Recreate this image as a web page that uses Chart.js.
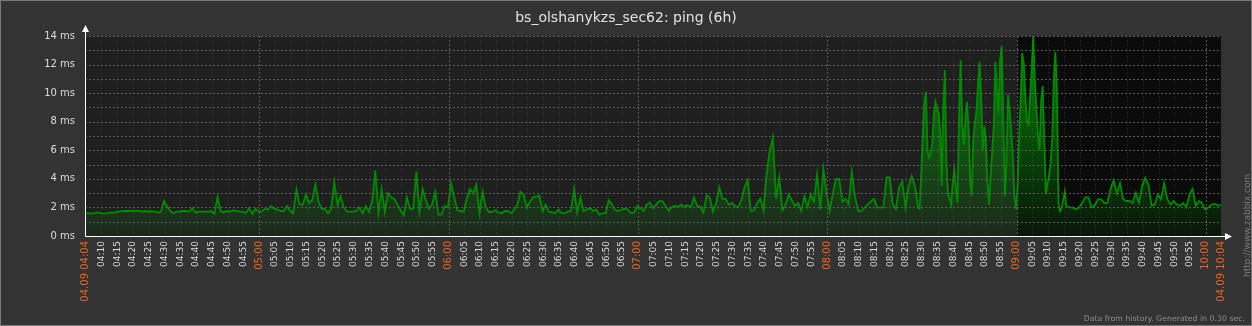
<!DOCTYPE html>
<html>
<head>
<meta charset="utf-8">
<title>bs_olshanykzs_sec62: ping (6h)</title>
<script src="https://cdn.jsdelivr.net/npm/chart.js@4.4.1/dist/chart.umd.min.js"></script>
<style>
  html, body { margin: 0; padding: 0; background: #333333; }
  #wrap { width: 1252px; height: 326px; }
  canvas { display: block; background: #333333; }
</style>
</head>
<body>
<div id="wrap"><canvas id="pingChart" width="1252" height="326"></canvas></div>
<script>
var chartTitle = 'bs_olshanykzs_sec62: ping (6h)';
var footerText = 'Data from history. Generated in 0.30 sec.';
var sideText = 'http://www.zabbix.com';

// x values are minutes since the left edge of the graph (04:04:48)
var axisStartClock = 4 * 60 + 4.8;
var axisLength = 360;

// ping, ms - one value per minute, 04:04 .. 08:28
var pingAStart = 0, pingAStep = 1;
var pingA = [
  1.6, 1.6, 1.55, 1.6, 1.65, 1.6, 1.55, 1.6, 1.65, 1.6,
  1.7, 1.7, 1.75, 1.75, 1.75, 1.75, 1.75, 1.75, 1.7, 1.75,
  1.7, 1.75, 1.7, 1.65, 1.65, 2.45, 2.1, 1.75, 1.6, 1.7,
  1.7, 1.75, 1.75, 1.7, 1.95, 1.65, 1.7, 1.7, 1.7, 1.7,
  1.75, 1.55, 2.75, 1.75, 1.65, 1.75, 1.7, 1.8, 1.75, 1.7,
  1.7, 1.6, 1.95, 1.55, 1.9, 1.7, 1.7, 1.9, 1.85, 2.1,
  1.9, 1.85, 1.75, 1.75, 2.1, 1.75, 1.6, 3.25, 2.2, 2.2,
  2.9, 2.3, 2.5, 3.6, 2.4, 1.9, 1.9, 1.6, 1.9, 3.8,
  2.2, 2.8, 2.0, 1.7, 1.7, 1.7, 1.75, 2.0, 1.6, 2.1,
  1.7, 2.4, 4.6, 1.6, 3.3, 1.7, 3.0, 2.7, 2.6, 2.2,
  1.8, 1.45, 2.7, 1.9, 1.9, 4.5, 1.7, 3.3, 2.5, 1.9,
  2.2, 3.1, 1.5, 1.5, 2.1, 2.0, 3.7, 2.7, 1.8, 1.75,
  1.7, 2.6, 3.3, 3.0, 3.6, 1.6, 3.1, 2.0, 1.68, 1.68,
  1.8, 1.65, 1.58, 1.75, 1.75, 1.6, 1.8, 2.2, 3.1, 2.9,
  2.0, 2.4, 2.7, 2.75, 2.85, 1.75, 2.2, 1.7, 1.65, 1.6,
  1.85, 1.6, 1.6, 1.7, 1.75, 3.3, 1.63, 2.7, 1.75, 1.85,
  1.95, 1.75, 1.85, 1.5, 1.6, 1.6, 2.5, 2.2, 1.8, 1.75,
  1.85, 1.9, 1.85, 1.6, 1.63, 2.1, 1.95, 1.75, 2.2, 2.35,
  1.95, 2.2, 2.44, 2.44, 2.1, 1.75, 2.05, 2.1, 2.05, 2.2,
  2.05, 2.15, 2.0, 2.7, 2.1, 2.05, 1.65, 2.85, 2.7, 1.7,
  2.3, 3.4, 2.6, 2.6, 2.2, 2.3, 2.1, 2.0, 2.5, 3.4,
  3.9, 1.74, 1.8, 2.3, 2.6, 1.81, 4.3, 6.0, 6.9, 2.6,
  4.1, 1.8, 2.2, 2.9, 2.5, 2.1, 2.3, 1.74, 2.8, 2.05,
  2.9, 2.4, 4.3, 1.85, 4.7, 3.0, 1.74, 3.0, 4.0, 4.0,
  2.4, 2.6, 2.2, 4.5, 2.8, 1.74, 1.74, 1.95, 2.2, 2.4,
  2.6, 2.0, 1.98, 1.98, 4.1, 4.1, 2.2, 1.9, 3.4, 3.8,
  2.0, 3.5, 4.2, 3.5, 2.0
];

// ping, ms - every 30 s through the noisy part, 08:29 .. 09:15
var pingBStart = 264.5, pingBStep = 0.5;
var pingB = [
  1.9, 4.4, 7.0, 9.4, 10.1, 6.0, 5.5, 5.7, 6.5, 8.5,
  9.4, 9.0, 8.6, 7.4, 3.5, 9.1, 11.6, 5.1, 2.9, 2.6,
  2.2, 3.8, 4.65, 3.3, 2.3, 8.6, 12.3, 7.8, 6.4, 8.2,
  9.4, 7.45, 4.0, 2.8, 6.75, 7.9, 8.7, 10.7, 12.2, 9.8,
  6.0, 7.7, 6.75, 3.7, 2.2, 4.2, 6.0, 7.7, 12.2, 10.25,
  8.6, 12.35, 13.3, 8.6, 2.8, 5.1, 9.9, 8.85, 7.45, 5.6,
  2.8, 1.86, 3.3, 6.75, 9.8, 12.8, 12.1, 9.8, 8.0, 7.8,
  9.8, 11.65, 14.0, 11.0, 8.85, 7.0, 6.0, 9.5, 10.5, 6.75,
  2.9, 3.7, 4.2, 5.1, 6.75, 10.9, 12.9, 10.25, 2.3, 1.74,
  1.98, 2.56, 3.1, 2.1
];

// ping, ms - one value per minute, 09:16 .. 10:04
var pingCStart = 312, pingCStep = 1;
var pingC = [
  2.0, 1.98, 1.86, 2.0, 2.3, 2.7, 2.7, 2.0, 2.15, 2.56,
  2.56, 2.3, 2.3, 3.3, 3.9, 3.0, 3.7, 2.56, 2.45, 2.45,
  2.3, 3.0, 2.3, 3.5, 4.07, 3.6, 2.1, 2.2, 2.9, 2.56,
  3.7, 2.56, 2.2, 2.45, 2.2, 2.1, 2.3, 2.0, 2.9, 3.3,
  2.1, 2.45, 2.3, 1.86, 2.0, 2.2, 2.25, 2.15, 2.15
];

var yTicks = [0, 2, 4, 6, 8, 10, 12, 14];
var startLabel = '04.09 04:04';
var endLabel = '04.09 10:04';
var darkFrom = '09:00';

function pad(n) { return n < 10 ? '0' + n : '' + n; }
function clockToX(hhmm) {
  var p = hhmm.split(':');
  return parseInt(p[0], 10) * 60 + parseInt(p[1], 10) - axisStartClock;
}

// 5 minute labels between the two edge labels
var xTickLabels = [];
for (var m = 4 * 60 + 10; m <= 10 * 60; m += 5) {
  xTickLabels.push(pad(Math.floor(m / 60)) + ':' + pad(m % 60));
}

var xTicks = [{ value: 0, label: startLabel, hi: true }];
xTickLabels.forEach(function(lbl) {
  xTicks.push({ value: clockToX(lbl), label: lbl, hi: lbl.slice(3) === '00' });
});
xTicks.push({ value: axisLength, label: endLabel, hi: true });

function tickInfo(v) {
  for (var i = 0; i < xTicks.length; i++) {
    if (Math.abs(xTicks[i].value - v) < 0.01) return xTicks[i];
  }
  return null;
}
function isHi(c) {
  var t = c && c.tick ? tickInfo(c.tick.value) : null;
  return !!(t && t.hi);
}

var points = [];
function addSeg(start, step, vals) {
  vals.forEach(function(v, i) { points.push({ x: start + i * step, y: v }); });
}
addSeg(pingAStart, pingAStep, pingA);
addSeg(pingBStart, pingBStep, pingB);
addSeg(pingCStart, pingCStep, pingC);

var zbxBack = {
  id: 'zbxBack',
  beforeDatasetsDraw: function(chart) {
    var ctx = chart.ctx, a = chart.chartArea, x = chart.scales.x;
    ctx.save();
    ctx.fillStyle = '#1f1f1f';
    ctx.fillRect(a.left, a.top, a.right - a.left, a.bottom - a.top);
    var xd = Math.round(x.getPixelForValue(clockToX(darkFrom)));
    ctx.fillStyle = '#0b0b0b';
    ctx.fillRect(xd, a.top, a.right - xd, a.bottom - a.top);
    ctx.restore();
  },
  afterDatasetsDraw: function(chart) {
    var ctx = chart.ctx, a = chart.chartArea, x = chart.scales.x, y = chart.scales.y;
    ctx.save();
    ctx.lineWidth = 1;
    ctx.setLineDash([2, 2]);
    // horizontal lines every 1 ms
    for (var v = 1; v <= 14; v++) {
      var py = Math.round(y.getPixelForValue(v)) + 0.5;
      ctx.strokeStyle = '#5a5a5a';
      ctx.beginPath();
      ctx.moveTo(a.left, py);
      ctx.lineTo(a.right, py);
      ctx.stroke();
    }
    // vertical lines every 5 minutes, hours stronger
    xTicks.forEach(function(t) {
      if (t.value <= 0 || t.value >= axisLength) return;
      var px = Math.round(x.getPixelForValue(t.value)) + 0.5;
      ctx.strokeStyle = t.hi ? '#5a5a5a' : 'rgba(255,255,255,0.08)';
      ctx.beginPath();
      ctx.moveTo(px, a.top);
      ctx.lineTo(px, a.bottom);
      ctx.stroke();
    });
    ctx.setLineDash([]);

    // axes with arrows
    var x0 = Math.round(a.left) + 0.5, y0 = Math.round(a.bottom) + 0.5;
    ctx.strokeStyle = '#ffffff';
    ctx.fillStyle = '#ffffff';
    ctx.beginPath();
    ctx.moveTo(x0, y0);
    ctx.lineTo(x0, a.top - 6);
    ctx.moveTo(x0, y0);
    ctx.lineTo(a.right + 6, y0);
    ctx.stroke();
    ctx.beginPath();
    ctx.moveTo(x0, a.top - 11);
    ctx.lineTo(x0 - 3.5, a.top - 4);
    ctx.lineTo(x0 + 3.5, a.top - 4);
    ctx.closePath();
    ctx.fill();
    ctx.beginPath();
    ctx.moveTo(a.right + 11, y0);
    ctx.lineTo(a.right + 4, y0 - 3.5);
    ctx.lineTo(a.right + 4, y0 + 3.5);
    ctx.closePath();
    ctx.fill();
    ctx.restore();
  },
  afterDraw: function(chart) {
    var ctx = chart.ctx;
    ctx.save();
    // title, centred on the whole picture
    ctx.fillStyle = '#e2e2e2';
    ctx.font = '14px "DejaVu Sans"';
    ctx.textAlign = 'center';
    ctx.textBaseline = 'middle';
    ctx.fillText(chartTitle, chart.width / 2, 18);

    ctx.fillStyle = '#8c8c8c';
    ctx.font = '7.8px "DejaVu Sans"';
    ctx.textAlign = 'right';
    ctx.textBaseline = 'alphabetic';
    ctx.fillText(footerText, 1245, 321);
    ctx.fillStyle = '#7a7a7a';
    ctx.font = '9px "DejaVu Sans"';
    ctx.textAlign = 'left';
    ctx.translate(1250, 277);
    ctx.rotate(-Math.PI / 2);
    ctx.fillText(sideText, 0, 0);
    ctx.restore();
    // frame
    ctx.save();
    ctx.strokeStyle = '#7a7a7a';
    ctx.lineWidth = 1;
    ctx.strokeRect(0.5, 0.5, chart.width - 1, chart.height - 1);
    ctx.restore();
  }
};

var ctx = document.getElementById('pingChart').getContext('2d');
var pingChart = new Chart(ctx, {
  type: 'line',
  data: {
    datasets: [{
      label: 'ping',
      data: points,
      borderColor: '#008a00',
      borderWidth: 1.8,
      pointRadius: 0,
      tension: 0,
      fill: 'origin',
      backgroundColor: function(c) {
        var a = c.chart.chartArea;
        if (!a) return 'rgba(0,138,0,0.3)';
        var g = c.chart.ctx.createLinearGradient(0, a.bottom, 0, a.top);
        g.addColorStop(0, 'rgba(0,140,0,0.08)');
        g.addColorStop(1, 'rgba(0,140,0,0.95)');
        return g;
      }
    }]
  },
  options: {
    responsive: false,
    animation: false,
    events: [],
    layout: { padding: { left: 0, right: 31, top: 36, bottom: 0 } },
    plugins: {
      legend: { display: false },
      tooltip: { enabled: false },
      title: { display: false }
    },
    scales: {
      x: {
        type: 'linear',
        min: 0,
        max: axisLength,
        grid: { display: false, drawTicks: false },
        border: { display: false },
        afterFit: function(s) { s.height = 90; },
        afterBuildTicks: function(s) {
          s.ticks = xTicks.map(function(t) { return { value: t.value }; });
        },
        ticks: {
          autoSkip: false,
          minRotation: 90,
          maxRotation: 90,
          padding: 5,
          callback: function(v) {
            var t = tickInfo(v);
            return t ? t.label : '';
          },
          color: function(c) { return isHi(c) ? '#f0621e' : '#dcdcdc'; },
          font: function(c) {
            return { family: 'DejaVu Sans', size: isHi(c) ? 10 : 9 };
          }
        }
      },
      y: {
        min: 0,
        max: 14,
        grid: { display: false, drawTicks: false },
        border: { display: false },
        afterFit: function(s) { s.width = 85; },
        afterBuildTicks: function(s) {
          s.ticks = yTicks.map(function(v) { return { value: v }; });
        },
        ticks: {
          padding: 10,
          color: '#dcdcdc',
          font: { family: 'DejaVu Sans', size: 10 },
          callback: function(v) { return v + ' ms'; }
        }
      }
    }
  },
  plugins: [zbxBack]
});
</script>
</body>
</html>
